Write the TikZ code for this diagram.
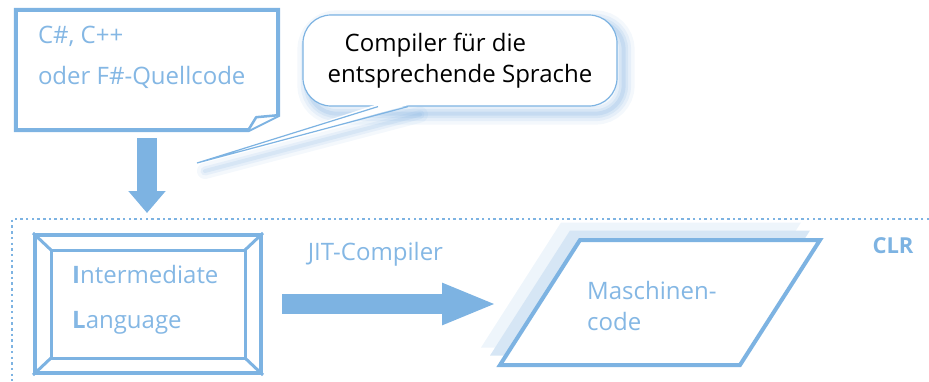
\documentclass[tikz,border=0pt]{standalone}
\usepackage{fontspec}
\setmainfont{Open Sans}
\usetikzlibrary{arrows.meta, positioning, backgrounds}
\definecolor{clrblue}{RGB}{125,179,226}
\definecolor{txtblue}{RGB}{132,183,228}
\definecolor{glowblue}{RGB}{110,165,220}
\definecolor{shadeA}{RGB}{214,230,245}
\definecolor{shadeB}{RGB}{238,245,251}

\begin{document}
\begin{tikzpicture}[x=1pt, y=-1pt,
    line/.style  ={draw=clrblue, line width=4pt, line join=miter},
    txt/.style   ={font=\fontsize{24}{41}\selectfont, text=txtblue, align=left, inner sep=0pt},
    ilbox/.style ={line, minimum width=226pt, minimum height=138pt, inner sep=0pt},
    bubble/.style={draw=clrblue, line width=1.2pt, fill=white, rounded corners=28pt,
                   minimum width=314pt, minimum height=91pt, align=left,
                   font=\fontsize{24}{31}\selectfont, text=black},
    bigarr/.style={draw=clrblue, line width=20pt},
    clrline/.style={draw=clrblue, line width=2.5pt, dash pattern=on 2.5pt off 3.2pt}
]
\useasboundingbox (0,0) rectangle (929,381);

%% ── Source code (folded sheet) ──────────────────────────────────
\node[minimum width=262pt, minimum height=120pt, inner sep=0pt] (src) at (147,70) {};
\draw[line, fill=white]
    (src.north west) -- (src.north east) -- ([yshift=15pt]src.south east)
    -- ([xshift=-30pt]src.south east) -- (src.south west) -- cycle;
\draw[draw=clrblue, line width=2.5pt, line join=round, fill=white]
    ([xshift=-30pt]src.south east) -- ([xshift=-22pt, yshift=13pt]src.south east)
    -- ([yshift=15pt]src.south east);
\node[txt, anchor=north west] (srctxt) at ([xshift=22pt, yshift=-16pt]src.north west)
    {C\#, C++\\oder F\#-Quellcode};

%% ── Compiler callout ────────────────────────────────────────────
\node[bubble] (bub) at (460,60.5)
    {\hspace*{17pt}Compiler für die\\entsprechende Sprache};
\coordinate (tip) at (197,163);
\fill[white] ([xshift=-84pt, yshift=2pt]bub.south) -- (tip)
    -- ([xshift=-50pt, yshift=2pt]bub.south) -- cycle;
\draw[draw=clrblue, line width=1.2pt, line join=miter]
    ([xshift=-82pt]bub.south) -- (tip) -- ([xshift=-52pt]bub.south);

\begin{scope}[on background layer]
    \foreach \w/\o in {22/0.08, 15/0.10, 9/0.13, 4/0.16}
        \draw[draw=glowblue, line width=\w pt, opacity=\o, rounded corners=28pt]
            ([xshift=6pt, yshift=-7pt]bub.north west) rectangle ([xshift=6pt, yshift=-7pt]bub.south east);
    \foreach \w/\o in {16/0.08, 9/0.10, 4/0.12}
        \draw[draw=glowblue, line width=\w pt, opacity=\o, line cap=round]
            ([xshift=-40pt, yshift=-8pt]bub.south) -- ([xshift=8pt, yshift=-8pt]tip);
\end{scope}

%% ── CLR region ──────────────────────────────────────────────────
\coordinate (clr) at (12,219);
\draw[clrline] (929,219) -- (clr) -- (12,381);
\node[font=\fontsize{22}{26}\selectfont\bfseries, text=clrblue, inner sep=0pt] (clrlbl) at (893,246) {CLR};

%% ── Intermediate Language ───────────────────────────────────────
\node[ilbox] (il) at (148,304) {};
\draw[draw=clrblue, line width=3pt]
    ([shift={(18,17)}]il.north west) rectangle ([shift={(-18,-17)}]il.south east);
\draw[draw=clrblue, line width=3pt]
    (il.north west) -- ([shift={(18,17)}]il.north west)
    (il.north east) -- ([shift={(-18,17)}]il.north east)
    (il.south west) -- ([shift={(18,-17)}]il.south west)
    (il.south east) -- ([shift={(-18,-17)}]il.south east);
\node[txt, font=\fontsize{24}{45}\selectfont, anchor=north west] (iltxt) at (72,265)
    {\textbf{I}ntermediate\\\textbf{L}anguage};

%% ── Machine code (parallelogram) ────────────────────────────────
\coordinate (mc) at (660,302.5);
\fill[shadeB] ([shift={(-99,-80)}]mc) -- ++(240,0) -- ++(-80,125) -- ++(-240,0) -- cycle;
\fill[shadeA] ([shift={(-90,-72)}]mc) -- ++(240,0) -- ++(-80,125) -- ++(-240,0) -- cycle;
\draw[line, fill=white] ([shift={(-80,-62.5)}]mc) -- ++(240,0) -- ++(-80,125) -- ++(-240,0) -- cycle;
\node[txt, font=\fontsize{24}{31}\selectfont, anchor=north west] (mctxt) at (587,281)
    {Maschinen-\\code};

%% ── Arrows ──────────────────────────────────────────────────────
\draw[bigarr, -{Triangle[length=22pt, width=36pt]}, shorten <=8pt, shorten >=20pt]
    (src.south) -- (src.south |- il.north);
\draw[bigarr, -{Triangle[length=55pt, width=38pt]}, shorten <=19pt, shorten >=90pt]
    (il.east) -- node[txt, above=28pt, pos=0.347]{JIT-Compiler} (il.east -| mctxt.west);

\end{tikzpicture}
\end{document}
